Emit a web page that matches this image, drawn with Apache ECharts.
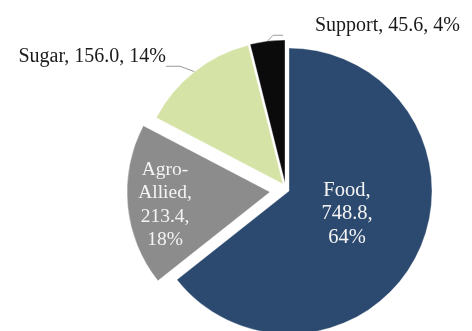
<!DOCTYPE html>
<html>
<head>
<meta charset="utf-8">
<script src="https://cdn.jsdelivr.net/npm/echarts@6/dist/echarts.min.js"></script>
<style>
  html, body { margin: 0; padding: 0; background: #ffffff; }
  #chart { width: 472px; height: 331px; }
</style>
</head>
<body>
<div id="chart"></div>
<script>
// Segment revenue split
const categories = ['Food', 'Agro-Allied', 'Sugar', 'Support'];
const values = [748.8, 213.4, 156.0, 45.6];
const percents = ['64%', '18%', '14%', '4%'];

// Styling per segment
const colors = ['#2c4a6f', '#8c8c8c', '#d5e3a6', '#0b0b0b'];
const explode = [[0, 0], [-19, 1], [-6, -7], [-4, -8]];
const baseCenter = [289, 191];
const radius = 143;

const serif = '"Liberation Serif", "DejaVu Serif", serif';

function labelFor(i) {
  if (i === 0) {
    return {
      show: true, position: 'inside', color: '#f4f4f4', fontFamily: serif, fontSize: 20.5, lineHeight: 23.5,
      formatter: p => p.name + ',\n' + p.value.toFixed(1) + ',\n' + percents[p.dataIndex]
    };
  }
  if (i === 1) {
    return {
      show: true, position: 'inside', color: '#f4f4f4', fontFamily: serif, fontSize: 19.5, lineHeight: 23.5,
      formatter: p => 'Agro-\nAllied,\n' + p.value.toFixed(1) + ',\n' + percents[p.dataIndex]
    };
  }
  // outside labels: an empty spacer line (and indent) lets the leader line stop short of the text
  return {
    show: true, position: 'outside', color: '#1a1a1a', fontFamily: serif, fontSize: 20,
    rich: {
      t: { fontFamily: serif, fontSize: 20, color: '#1a1a1a', height: 23 },
      g: { width: 32, height: 23 },
      s: { height: 24, fontSize: 10 }
    },
    formatter: p => (i === 3 ? '{g| }' : '') + '{t|' + p.name + ', ' + p.value.toFixed(1) + ', ' + percents[p.dataIndex] + '}\n{s| }'
  };
}

const labelPlacement = [
  { x: 347, y: 214, align: 'center', verticalAlign: 'middle' },
  { x: 165, y: 205, align: 'center', verticalAlign: 'middle' },
  { x: 166, y: 69, align: 'right', verticalAlign: 'middle' },
  { x: 283, y: 38, align: 'left', verticalAlign: 'middle' }
];

const lineLengths = [null, null, [14, 14], [6, 10]];

const series = categories.map((cat, k) => ({
  type: 'pie',
  silent: true,
  animation: false,
  avoidLabelOverlap: false,
  startAngle: 90,
  clockwise: true,
  radius: radius,
  center: [baseCenter[0] + explode[k][0], baseCenter[1] + explode[k][1]],
  labelLayout: labelPlacement[k],
  data: categories.map((name, i) => ({
    name: name,
    value: values[i],
    itemStyle: i === k
      ? { color: colors[i], borderColor: 'rgba(255,255,255,0.35)', borderWidth: 1 }
      : { color: 'rgba(0,0,0,0)' },
    label: i === k ? labelFor(i) : { show: false },
    labelLine: i === k && lineLengths[i]
      ? { show: true, length: lineLengths[i][0], length2: lineLengths[i][1], lineStyle: { color: '#9a9a9a', width: 1 } }
      : { show: false }
  }))
}));

const chart = echarts.init(document.getElementById('chart'), null, { renderer: 'canvas' });
chart.setOption({ backgroundColor: '#ffffff', series: series });
</script>
</body>
</html>
